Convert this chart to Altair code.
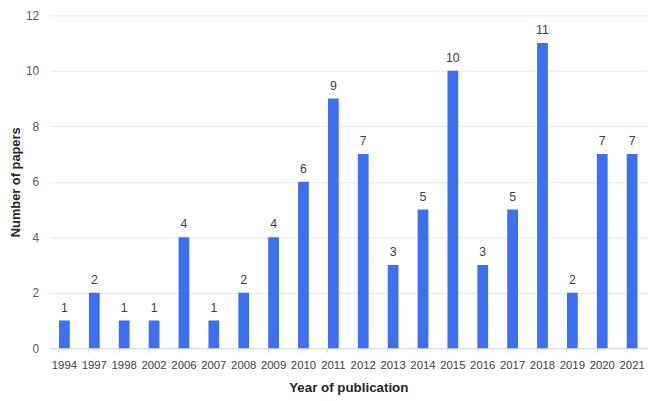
import altair as alt
import pandas as pd

years = ["1994", "1997", "1998", "2002", "2006", "2007", "2008", "2009", "2010", "2011",
         "2012", "2013", "2014", "2015", "2016", "2017", "2018", "2019", "2020", "2021"]
papers = [1, 2, 1, 1, 4, 1, 2, 4, 6, 9, 7, 3, 5, 10, 3, 5, 11, 2, 7, 7]

df = pd.DataFrame({"year": years, "papers": papers})

FONT = "Liberation Sans"

base = alt.Chart(df).encode(
    x=alt.X("year:N", sort=years, title="Year of publication",
            scale=alt.Scale(paddingInner=0.64, paddingOuter=0.32),
            axis=alt.Axis(labelAngle=0, labelFontSize=11.5, labelColor="#404040",
                          labelFont=FONT, titleFont=FONT, titleFontSize=13.5,
                          titleFontWeight="bold", titleColor="#262626",
                          domainColor="#d9d9d9", tickColor="#d9d9d9", tickSize=4,
                          bandPosition=0, labelPadding=8, titlePadding=9)),
    y=alt.Y("papers:Q", title="Number of papers",
            scale=alt.Scale(domain=[0, 12]),
            axis=alt.Axis(values=[0, 2, 4, 6, 8, 10, 12], labelFontSize=12,
                          labelColor="#595959", labelFont=FONT, titleFont=FONT,
                          titleFontSize=13, titleFontWeight="bold",
                          titleColor="#262626", domain=False, ticks=False,
                          gridColor="#e8e8e8", labelPadding=11, titlePadding=3)),
)

bars = base.mark_bar(color="#3d6ff2")
labels = base.mark_text(dy=-13, fontSize=12.5, color="#404040", font=FONT).encode(
    text="papers:Q")

chart = (bars + labels).properties(
    width=605, height=337,
    autosize=alt.AutoSizeParams(type="none"),
    padding={"left": 42, "top": 5, "right": 6, "bottom": 50},
).configure_view(stroke=None)

chart.save("out.html", embed_options={"renderer": "svg", "actions": False})
